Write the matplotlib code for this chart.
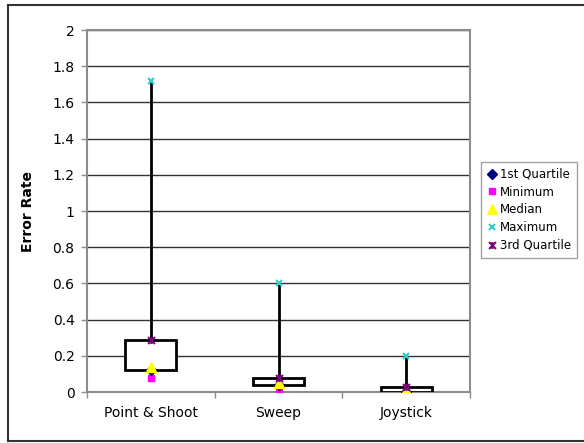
import numpy as np
import matplotlib.pyplot as plt
from matplotlib.path import Path
from matplotlib.lines import Line2D

categories = ['Point & Shoot', 'Sweep', 'Joystick']
q1 = [0.12, 0.04, 0.0]
minimum = [0.08, 0.01, 0.0]
median = [0.14, 0.05, 0.01]
maximum = [1.72, 0.60, 0.20]
q3 = [0.29, 0.08, 0.03]

# excel-style star: an x with a vertical bar through it
star = Path([(-1, -1), (1, 1), (-1, 1), (1, -1), (0, -1), (0, 1)],
            [Path.MOVETO, Path.LINETO, Path.MOVETO, Path.LINETO, Path.MOVETO, Path.LINETO])

fig = plt.figure(figsize=(5.84, 4.43), dpi=100)
ax = fig.add_axes([87 / 584, 51 / 443, 383 / 584, 362 / 443])

x = np.arange(len(categories))

ax.vlines(x, minimum, maximum, color='black', linewidth=2, zorder=2)
ax.bar(x, np.array(q3) - np.array(q1), bottom=q1, width=0.4,
       facecolor='white', edgecolor='black', linewidth=2, zorder=3)

h_q1, = ax.plot(x, q1, linestyle='none', marker='D', markersize=5.5,
                color='#000080', zorder=4, label='1st Quartile')
h_min, = ax.plot(x, minimum, linestyle='none', marker='s', markersize=5,
                 color='#ff00ff', zorder=3.5, label='Minimum')
h_med, = ax.plot(x, median, linestyle='none', marker='^', markersize=6.5,
                 color='#ffff00', zorder=5, label='Median')
h_max, = ax.plot(x, maximum, linestyle='none', marker='x', markersize=4.5,
                 markeredgewidth=1.5, color='#33cccc', zorder=5, label='Maximum')
h_q3, = ax.plot(x, q3, linestyle='none', marker=star, markersize=5,
                markeredgewidth=1.5, markerfacecolor='none', color='#800080',
                zorder=5, label='3rd Quartile')

ax.set_xlim(-0.5, len(categories) - 0.5)
ax.set_ylim(0, 2)
ax.set_yticks(np.arange(0, 2.01, 0.2))
ax.set_yticklabels(['0', '0.2', '0.4', '0.6', '0.8', '1', '1.2', '1.4', '1.6', '1.8', '2'])
ax.set_xticks(x)
ax.set_xticklabels(categories)
ax.set_xticks(np.arange(-0.5, len(categories), 1), minor=True)

ax.tick_params(axis='y', length=4, color='#8c8c8c', width=1, pad=5, labelsize=10)
ax.tick_params(axis='x', which='major', length=0, pad=10, labelsize=10)
ax.tick_params(axis='x', which='minor', length=4, color='#8c8c8c', width=1)

ax.set_axisbelow(True)
ax.grid(True, axis='y', color='#333333', linewidth=1)
for s in ax.spines.values():
    s.set_color('#8c8c8c')
    s.set_linewidth(1.5)

ax.set_ylabel('Error Rate', fontsize=10, fontweight='bold')
ax.yaxis.set_label_coords(-0.135, 0.5)

fig.legend(handles=[h_q1, h_min, h_med, h_max, h_q3], loc='upper left',
           bbox_to_anchor=(481 / 584, 281 / 443), fontsize=8.5, frameon=True,
           fancybox=False, edgecolor='#8c8c8c', handlelength=0.8,
           handletextpad=0.3, borderpad=0.5, labelspacing=0.4, borderaxespad=0)

# outer chart border
fig.add_artist(Line2D([8 / 584, 8 / 584], [2 / 443, 438 / 443], color='#333333',
                      linewidth=1.5, transform=fig.transFigure))
fig.add_artist(Line2D([8 / 584, 1], [438 / 443, 438 / 443], color='#333333',
                      linewidth=1.5, transform=fig.transFigure))
fig.add_artist(Line2D([8 / 584, 1], [2 / 443, 2 / 443], color='#333333',
                      linewidth=1.5, transform=fig.transFigure))

fig.savefig('out.png', dpi=100)
